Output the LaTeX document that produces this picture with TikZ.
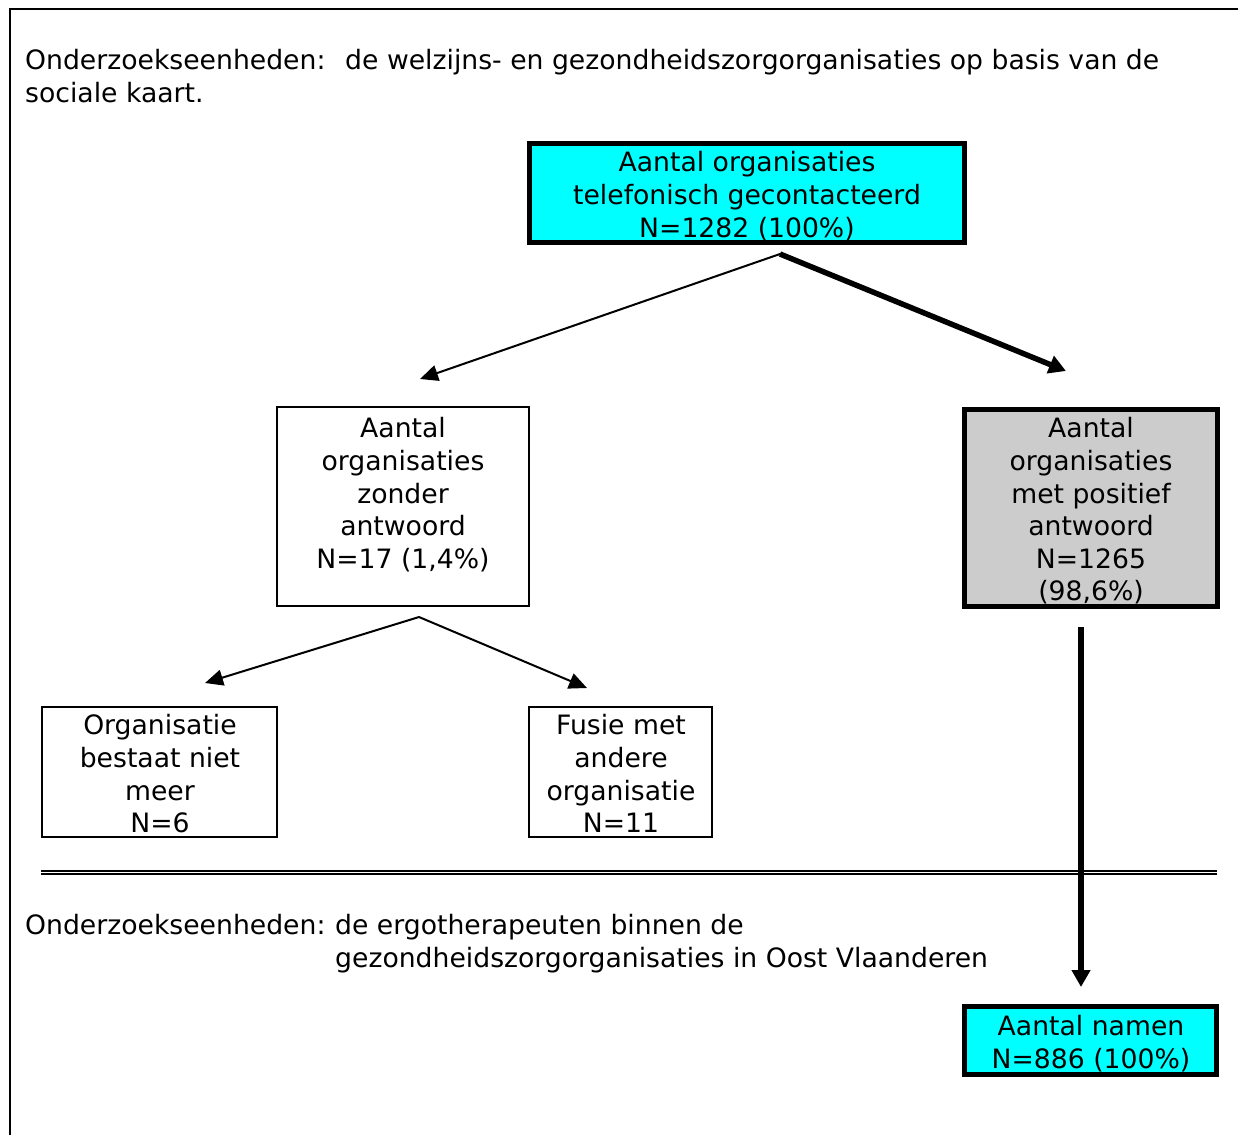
\documentclass[tikz,border=0pt]{standalone}
\usepackage{fontspec}
\setmainfont{DejaVu Sans}
\usetikzlibrary{arrows.meta}
\definecolor{boxcyan}{HTML}{00FFFF}
\definecolor{boxgrey}{HTML}{CCCCCC}
\begin{document}
\begin{tikzpicture}[x=1pt,y=-1pt,
  every node/.style={font=\fontsize{26.65}{32.6}\selectfont},
  thinbox/.style={draw=black,line width=1.1pt,minimum width=#1,inner sep=0pt},
  boldbox/.style={draw=black,line width=5pt,minimum width=#1,inner sep=0pt},
  boxtext/.style={anchor=north,align=center,inner sep=0pt},
  plaintext/.style={anchor=north west,align=left,inner sep=0pt},
  thinarrow/.style={line width=2pt,-{Triangle[length=18pt,width=16pt]}},
  boldarrow/.style={line width=5.5pt,-{Triangle[length=17pt,width=18pt]}}]
\useasboundingbox (0,0) rectangle (1238,1135);
% frame
\draw[line width=1.3pt] (1238,9) -- (10,9) -- (10,1135);
% heading of the first part
\node[plaintext] (head1) at (25,49.5) {Onderzoekseenheden:~ de welzijns- en gezondheidszorgorganisaties op basis van de\\sociale kaart.};
% boxes
\node[boldbox=435pt,minimum height=99pt,fill=boxcyan] (total) at (747,193) {};
\node[boxtext] (totaltxt) at (747,151.5) {Aantal organisaties\\telefonisch gecontacteerd\\N=1282 (100\%)};
\node[thinbox=252pt,minimum height=199pt] (none) at (403,506.5) {};
\node[boxtext] (nonetxt) at (403,417.5) {Aantal\\organisaties\\zonder\\antwoord\\N=17 (1,4\%)};
\node[boldbox=253pt,minimum height=197pt,fill=boxgrey] (pos) at (1091,508) {};
\node[boxtext] (postxt) at (1091,417.5) {Aantal\\organisaties\\met positief\\antwoord\\N=1265\\(98,6\%)};
\node[thinbox=235pt,minimum height=130pt] (gone) at (159.5,772) {};
\node[boxtext] (gonetxt) at (160,714.5) {Organisatie\\bestaat niet\\meer\\N=6};
\node[thinbox=183pt,minimum height=130pt] (merge) at (620.5,772) {};
\node[boxtext] (mergetxt) at (621,714.5) {Fusie met\\andere\\organisatie\\N=11};
\node[boldbox=252pt,minimum height=68pt,fill=boxcyan] (names) at (1090.5,1040.5) {};
\node[boxtext] (namestxt) at (1091,1015.5) {Aantal namen\\N=886 (100\%)};
% arrow ends
\coordinate (s1) at (780,254);
\coordinate (e1l) at (420,379);
\coordinate (e1r) at (1066,371);
\coordinate (s2) at (419,617);
\coordinate (e2l) at (205,683);
\coordinate (e2r) at (587,688);
\coordinate (s3) at (1081,627);
\coordinate (e3) at (1081,987);
\draw[thinarrow] (s1) -- (e1l);
\draw[boldarrow] (s1) -- (e1r);
\draw[thinarrow] (s2) -- (e2l);
\draw[thinarrow] (s2) -- (e2r);
% separator between the two parts
\coordinate (sepl) at (41,872.5);
\coordinate (sepr) at (1217,872.5);
\draw[line width=1.3pt,double=white,double distance=1.6pt] (sepl) -- (sepr);
\draw[boldarrow] (s3) -- (e3);
% heading of the second part
\node[plaintext] (head2) at (25,914.5) {Onderzoekseenheden:};
\node[plaintext] (head2b) at (335,914.5) {de ergotherapeuten binnen de\\gezondheidszorgorganisaties in Oost Vlaanderen};
\end{tikzpicture}
\end{document}
